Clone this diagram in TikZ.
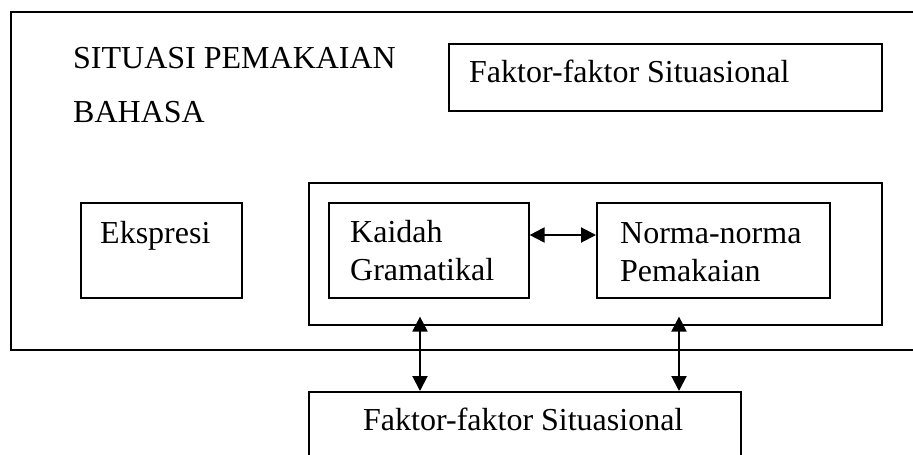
\documentclass[tikz,border=0pt]{standalone}
\usepackage{fontspec}
\setmainfont{Liberation Serif}
\usetikzlibrary{arrows.meta,calc}
\tikzset{
  box/.style={draw, line width=1.6pt, rectangle, inner sep=0pt, anchor=north west},
  txt/.style={anchor=base west, inner sep=0pt, font=\fontsize{32}{38}\selectfont},
  link/.style={line width=2pt,
    {Triangle[length=15pt,width=15pt]}-{Triangle[length=15pt,width=15pt]}},
  frame/.style={line width=1.6pt},
}
\begin{document}
\begin{tikzpicture}[x=1pt,y=-1pt]
\useasboundingbox (0,0) rectangle (913,455);
\clip (0,0) rectangle (913,455);

% outer frame of the language-use situation (open to the right)
\draw[frame] (930,12) -- (11,12) -- (11,350) -- (930,350);

\node[txt] (sit1) at (73,68) {SITUASI PEMAKAIAN};
\node[txt] (sit2) at (73,122) {BAHASA};

% boxes
\node[box, minimum width=433pt, minimum height=67pt] (fakT) at (448,43) {};
\node[box, minimum width=161pt, minimum height=95pt] (eks) at (80,202) {};
\node[box, minimum width=573pt, minimum height=142pt] (grp) at (308,182) {};
\node[box, minimum width=200pt, minimum height=95pt] (kai) at (328,202) {};
\node[box, minimum width=233pt, minimum height=95pt] (nor) at (596,202) {};
\node[box, minimum width=432pt, minimum height=100pt] (fakB) at (308,391) {};

% labels
\node[txt] (fakTt) at (469,82) {Faktor-faktor Situasional};
\node[txt] (ekst) at (100,243) {Ekspresi};
\node[txt] (kait1) at (350,242) {Kaidah};
\node[txt] (kait2) at (350,280) {Gramatikal};
\node[txt] (nort1) at (620,243) {Norma-norma};
\node[txt] (nort2) at (620,281) {Pemakaian};
\node[txt] (fakBt) at (363,430) {Faktor-faktor Situasional};

% connectors
\draw[link] (kai.east |- 0,235) -- (nor.west |- 0,235);
\coordinate (upL) at ($(grp.south -| 420,0)+(0,-9)$);
\coordinate (upR) at ($(grp.south -| 679,0)+(0,-9)$);
\draw[link] (upL) -- (fakB.north -| upL);
\draw[link] (upR) -- (fakB.north -| upR);
\end{tikzpicture}
\end{document}
